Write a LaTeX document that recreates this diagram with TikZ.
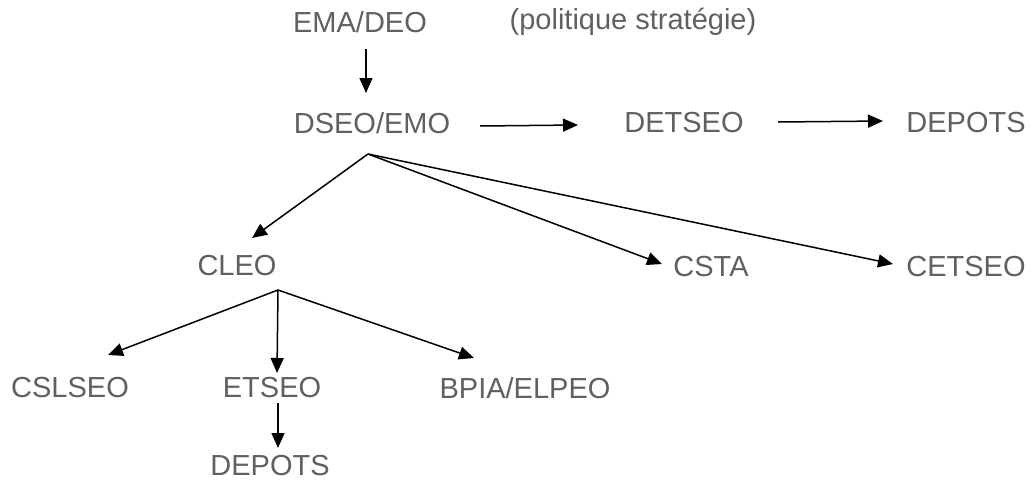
\documentclass[tikz,border=0pt]{standalone}
\usepackage{fontspec}
\setmainfont{Liberation Sans}
\usetikzlibrary{arrows.meta}
\definecolor{txt}{HTML}{606060}
\tikzset{
  lbl/.style={inner sep=0pt, text=txt, font=\fontsize{29}{33}\selectfont, anchor=center},
  arr/.style={line width=1.5pt, -{Triangle[length=15pt,width=13pt]}}
}
\begin{document}
\begin{tikzpicture}[x=1pt,y=-1pt]
\useasboundingbox (0,0) rectangle (1036,482);
\node[lbl] (ema) at (360,22) {EMA/DEO};
\node[lbl] (pol) at (633,22) {(politique stratégie)};
\node[lbl] (dseo) at (372,123) {DSEO/EMO};
\node[lbl] (detseo) at (684,123) {DETSEO};
\node[lbl] (depa) at (966,123) {DEPOTS};
\node[lbl] (cleo) at (237,266) {CLEO};
\node[lbl] (csta) at (711,267) {CSTA};
\node[lbl] (cetseo) at (966,267) {CETSEO};
\node[lbl] (cslseo) at (70,388) {CSLSEO};
\node[lbl] (etseo) at (272,388) {ETSEO};
\node[lbl] (bpia) at (525,388) {BPIA/ELPEO};
\node[lbl] (depb) at (270,466) {DEPOTS};
\coordinate (j1) at ([shift={(-4,31)}]dseo.center);
\coordinate (j2) at ([shift={(41,24)}]cleo.center);
\draw[arr] ([shift={(6,27)}]ema.center) -- ([shift={(-6,-30)}]dseo.center);
\draw[arr] ([shift={(108,3)}]dseo.center) -- ([shift={(-106,2)}]detseo.center);
\draw[arr] ([shift={(94,-1)}]detseo.center) -- ([shift={(-83,-2)}]depa.center);
\draw[arr] (j1) -- ([shift={(15,-28)}]cleo.center);
\draw[arr] (j1) -- ([shift={(-49,-3)}]csta.center);
\draw[arr] (j1) -- ([shift={(-73,-3)}]cetseo.center);
\draw[arr] (j2) -- ([shift={(38,-33)}]cslseo.center);
\draw[arr] (j2) -- ([shift={(5,-15)}]etseo.center);
\draw[arr] (j2) -- ([shift={(-51,-30)}]bpia.center);
\draw[arr] ([shift={(6,15)}]etseo.center) -- ([shift={(8,-18)}]depb.center);
\end{tikzpicture}
\end{document}
